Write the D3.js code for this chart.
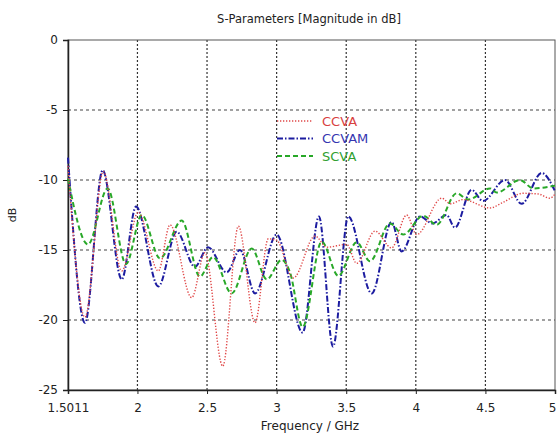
<!DOCTYPE html>
<meta charset="utf-8">
<script src="https://d3js.org/d3.v7.min.js"></script>
<style>
  body { margin: 0; background: #fff; }
  text { font-family: "DejaVu Sans", Verdana, sans-serif; }
</style>
<svg width="557" height="434"></svg>
<script>
// frequency (GHz), magnitude (dB)
var ccva = [
  [1.5011, -9.0], [1.623, -19.8], [1.755, -9.4], [1.887, -16.5], [2.006, -12.3],
  [2.150, -16.5], [2.234, -13.2], [2.390, -18.4], [2.485, -15.2], [2.613, -23.3],
  [2.725, -13.3], [2.845, -20.2], [2.940, -14.2], [3.000, -14.3], [3.120, -17.0],
  [3.276, -14.0], [3.360, -14.8], [3.503, -14.6], [3.575, -15.95], [3.707, -13.65],
  [3.826, -14.85], [3.934, -12.5], [4.006, -13.9], [4.186, -11.3], [4.25, -11.7],
  [4.339, -11.4], [4.533, -12.0], [4.626, -11.6], [4.770, -10.95], [4.88, -11.0],
  [4.964, -11.3], [5.0, -11.0]
];
var ccvam = [
  [1.5011, -8.4], [1.623, -20.2], [1.750, -9.3], [1.887, -17.1], [1.990, -11.9],
  [2.150, -17.6], [2.282, -13.7], [2.413, -16.2], [2.507, -14.8], [2.641, -16.6],
  [2.737, -15.0], [2.845, -18.1], [3.000, -13.9], [3.187, -20.9], [3.304, -12.6],
  [3.405, -21.9], [3.515, -12.6], [3.683, -18.1], [3.826, -13.0], [3.898, -15.1],
  [4.030, -12.6], [4.12, -13.1], [4.221, -12.5], [4.281, -13.4], [4.401, -10.7],
  [4.482, -11.5], [4.641, -10.0], [4.760, -11.7], [4.904, -9.5], [5.0, -10.8]
];
var scva = [
  [1.5011, -9.9], [1.645, -14.6], [1.786, -10.6], [1.918, -16.0], [2.031, -12.5],
  [2.162, -15.6], [2.318, -12.9], [2.449, -16.9], [2.543, -15.5], [2.677, -18.1],
  [2.821, -14.9], [2.929, -17.1], [3.036, -15.7], [3.096, -16.6], [3.187, -20.5],
  [3.324, -14.4], [3.443, -16.85], [3.575, -14.45], [3.671, -15.8], [3.814, -13.1],
  [3.910, -13.9], [4.053, -12.55], [4.150, -13.2], [4.293, -10.95], [4.377, -11.4],
  [4.533, -10.6], [4.581, -10.9], [4.748, -10.0], [4.844, -10.6], [5.0, -10.4]
];
var seriesNames = ["CCVA", "CCVAM", "SCVA"];
var xTicks = [1.5011, 2, 2.5, 3, 3.5, 4, 4.5, 5];
var yTicks = [0, -5, -10, -15, -20, -25];

var svg = d3.select("svg"),
    margin = { top: 40, right: 2, bottom: 44, left: 68 },
    width = +svg.attr("width") - margin.left - margin.right,
    height = +svg.attr("height") - margin.top - margin.bottom,
    g = svg.append("g").attr("transform", "translate(" + margin.left + "," + margin.top + ")");

var x = d3.scaleLinear().domain([1.5011, 5]).range([0, width]);
var y = d3.scaleLinear().domain([-25, 0]).range([height, 0]);

// grid
g.append("g").selectAll("line")
  .data(xTicks.slice(1, -1))
  .enter().append("line")
  .attr("x1", function (d) { return x(d); }).attr("x2", function (d) { return x(d); })
  .attr("y1", 0).attr("y2", height)
  .attr("stroke", "#333").attr("stroke-width", 1.2).attr("stroke-dasharray", "2,2");

g.append("g").selectAll("line")
  .data(yTicks.slice(1, -1))
  .enter().append("line")
  .attr("x1", 0).attr("x2", width)
  .attr("y1", function (d) { return y(d); }).attr("y2", function (d) { return y(d); })
  .attr("stroke", "#444").attr("stroke-width", 1.2).attr("stroke-dasharray", "3,3");

// frame
g.append("rect")
  .attr("width", width).attr("height", height)
  .attr("fill", "none").attr("stroke", "#555").attr("stroke-width", 1);

// axes
var xAxis = g.append("g")
  .attr("transform", "translate(0," + height + ")")
  .call(d3.axisBottom(x).tickValues(xTicks).tickSize(4).tickFormat(function (d) { return String(d); }));
var yAxis = g.append("g")
  .call(d3.axisLeft(y).tickValues(yTicks).tickSize(5).tickFormat(function (d) { return String(d); }));

[xAxis, yAxis].forEach(function (a) {
  a.select(".domain").attr("stroke", "#222").attr("stroke-width", 1.5);
  a.selectAll(".tick line").attr("stroke", "#222");
  a.selectAll("text").attr("font-size", 12).attr("fill", "#222")
    .style("font-family", "DejaVu Sans, Verdana, sans-serif");
});
xAxis.selectAll("text").attr("dy", "1.25em");
xAxis.selectAll(".tick").filter(function (d) { return d === 5; }).select("text")
  .attr("text-anchor", "end").attr("x", 1);
yAxis.selectAll("text").attr("x", -10);

// curves
var line = d3.line()
  .x(function (d) { return x(d[0]); })
  .y(function (d) { return y(d[1]); })
  .curve(d3.curveMonotoneX);

var styles = [
  { data: ccva, color: "#e04848", dash: "1.3,1.7", w: 1.4, text: "#d84040" },
  { data: ccvam, color: "#1c1ca0", dash: "6,2,1.5,2", w: 2, text: "#3535b0" },
  { data: scva, color: "#28a828", dash: "5,3", w: 2, text: "#30a030" }
];

var plot = g.append("g");
[1, 2, 0].forEach(function (i) {
  var s = styles[i];
  plot.append("path")
    .datum(s.data)
    .attr("fill", "none")
    .attr("stroke", s.color)
    .attr("stroke-width", s.w)
    .attr("stroke-dasharray", s.dash)
    .attr("d", line);
});

// legend
var legend = g.append("g")
  .attr("transform", "translate(" + (277 - margin.left) + "," + (121 - margin.top) + ")")
  .selectAll("g")
  .data(seriesNames)
  .enter().append("g")
  .attr("transform", function (d, i) { return "translate(0," + i * 17.5 + ")"; });

legend.append("line")
  .attr("x1", 0).attr("x2", 36)
  .attr("stroke", function (d, i) { return styles[i].color; })
  .attr("stroke-width", function (d, i) { return styles[i].w; })
  .attr("stroke-dasharray", function (d, i) { return styles[i].dash; });

legend.append("text")
  .attr("x", 45)
  .attr("dy", "0.36em")
  .attr("font-size", 13)
  .attr("fill", function (d, i) { return styles[i].text; })
  .text(function (d) { return d; });

// titles
svg.append("text")
  .attr("x", 309).attr("y", 23)
  .attr("text-anchor", "middle")
  .attr("font-size", 11.5).attr("fill", "#222")
  .text("S-Parameters [Magnitude in dB]");

svg.append("text")
  .attr("x", 310).attr("y", 430)
  .attr("text-anchor", "middle")
  .attr("font-size", 12).attr("fill", "#222")
  .text("Frequency / GHz");

svg.append("text")
  .attr("transform", "translate(16,215) rotate(-90)")
  .attr("text-anchor", "middle")
  .attr("font-size", 11).attr("fill", "#222")
  .text("dB");
</script>
